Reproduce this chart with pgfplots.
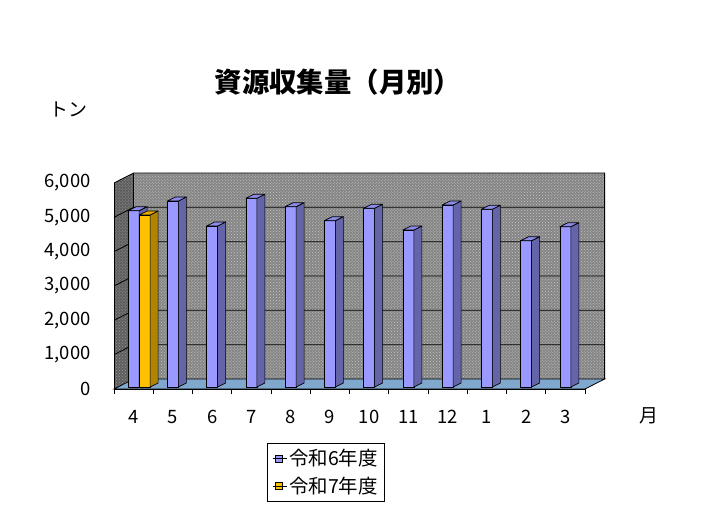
\documentclass[border=0pt]{standalone}
\usepackage{fontspec}
\setmainfont{Noto Sans CJK JP}
\usepackage{pgfplots}
\pgfplotsset{compat=1.18}
\usetikzlibrary{patterns}

\definecolor{rsixfront}{HTML}{9999FF}
\definecolor{rsixside}{HTML}{6464A8}
\definecolor{rsixtop}{HTML}{8C8CE8}
\definecolor{rsevfront}{HTML}{FFC000}
\definecolor{rsevside}{HTML}{B08400}
\definecolor{rsevtop}{HTML}{E6A800}
\definecolor{backwall}{HTML}{858585}
\definecolor{backdots}{HTML}{C8C8C8}
\definecolor{sidewall}{HTML}{5E5E5E}
\definecolor{sidedots}{HTML}{999999}
\definecolor{floorblue}{HTML}{80A8CC}

\newcommand{\sz}[1]{\fontsize{#1}{#1}\selectfont}

% one 3d column, drawn at the data point (top front centre of the column)
% #1 x offset in bp, #2 front, #3 side, #4 top
\newcommand{\columnthreed}[4]{%
  \pgfmathsetmacro\barlo{2-\rawv*0.0343333}%
  \pgfmathsetmacro\xl{#1-5.5}%
  \pgfmathsetmacro\xr{#1+5.5}%
  \pgfmathsetmacro\xb{#1+13.5}%
  \pgfmathsetmacro\xt{#1+2.5}%
  \begin{scope}[line width=0.7bp, line join=round]
    \filldraw[fill=#2, draw=black] (\xl bp,\barlo bp) rectangle (\xr bp,2bp);
    \filldraw[fill=#3, draw=black] (\xr bp,2bp) -- (\xb bp,6bp) -- (\xb bp,\barlo bp+4bp) -- (\xr bp,\barlo bp) -- cycle;
    \filldraw[fill=#4, draw=black] (\xl bp,2bp) -- (\xr bp,2bp) -- (\xb bp,6bp) -- (\xt bp,6bp) -- cycle;
  \end{scope}}
\pgfdeclareplotmark{colsix}{\columnthreed{0}{rsixfront}{rsixside}{rsixtop}}
\pgfdeclareplotmark{colsev}{\columnthreed{11}{rsevfront}{rsevside}{rsevtop}}

\begin{document}
\begin{tikzpicture}
\useasboundingbox (0,0) rectangle (715bp,514bp);
\node[font=\sz{27.5}\bfseries] at (338bp,432bp) {資源収集量（月別）};
\node[font=\sz{19}, anchor=west] at (46bp,405bp) {トン};
\node[font=\sz{19}] at (649bp,98bp) {月};
\begin{axis}[
    at={(114bp,125bp)}, anchor=south west,
    scale only axis,
    width=471bp, height=206bp,
    xmin=-0.5, xmax=11.5,
    ymin=0, ymax=6000,
    clip=false,
    axis on top,
    axis x line*=bottom,
    axis y line*=left,
    axis line style={black, line width=0.8bp},
    xtick={0,...,11},
    xticklabels={4,5,6,7,8,9,10,11,12,1,2,3},
    minor xtick={-0.5,0.5,...,11.5},
    ytick={0,1000,...,6000},
    scaled y ticks=false,
    major tick length=0pt,
    minor tick length=5bp,
    tick align=outside,
    tick style={black, line width=0.8bp},
    ticklabel style={font=\sz{18.5}},
    /pgf/number format/assume math mode=true,
    yticklabel style={/pgf/number format/1000 sep={,}, xshift=-20bp},
    xticklabel style={yshift=-18bp},
    legend style={at={(0.325,-0.262)}, anchor=north west,
      draw=black, line width=0.8bp, font=\sz{19.5},
      inner xsep=5bp, inner ysep=4bp, row sep=6bp},
    legend cell align=left,
]
% walls and floor
\fill[backwall] (axis cs:0,291) rectangle (axis cs:12,6291);
\fill[pattern=crosshatch dots, pattern color=backdots] (axis cs:0,291) rectangle (axis cs:12,6291);
\fill[sidewall] (axis cs:-0.5,0) -- (axis cs:0,291) -- (axis cs:0,6291) -- (axis cs:-0.5,6000) -- cycle;
\fill[pattern=crosshatch dots, pattern color=sidedots] (axis cs:-0.5,0) -- (axis cs:0,291) -- (axis cs:0,6291) -- (axis cs:-0.5,6000) -- cycle;
\draw[black, line width=0.8bp] (axis cs:-0.5,6000) -- (axis cs:0,6291) -- (axis cs:12,6291) -- (axis cs:12,291);
\draw[black, line width=0.8bp] (axis cs:0,291) -- (axis cs:0,6291);
% grid lines on the walls
\draw[black, line width=0.8bp]
  (axis cs:-0.5,1000) -- (axis cs:0,1291) -- (axis cs:12,1291)
  (axis cs:-0.5,2000) -- (axis cs:0,2291) -- (axis cs:12,2291)
  (axis cs:-0.5,3000) -- (axis cs:0,3291) -- (axis cs:12,3291)
  (axis cs:-0.5,4000) -- (axis cs:0,4291) -- (axis cs:12,4291)
  (axis cs:-0.5,5000) -- (axis cs:0,5291) -- (axis cs:12,5291);
\filldraw[fill=floorblue, draw=black, line width=0.8bp] (axis cs:-0.5,0) -- (axis cs:11.5,0) -- (axis cs:12,291) -- (axis cs:0,291) -- cycle;

\addplot[scatter, only marks, mark=colsix,
  scatter/@pre marker code/.code={}, scatter/@post marker code/.code={},
  visualization depends on={rawy \as \rawv},
  legend image code/.code={\filldraw[fill=rsixfront, draw=black, line width=0.6bp] (2bp,-3.5bp) rectangle (9bp,3.5bp); \path (0bp,0bp) -- (14bp,0bp);}]
  coordinates {(0,5135) (1,5418) (2,4690) (3,5497) (4,5252) (5,4844)
               (6,5205) (7,4573) (8,5301) (9,5176) (10,4262) (11,4669)};
\addplot[scatter, only marks, mark=colsev,
  scatter/@pre marker code/.code={}, scatter/@post marker code/.code={},
  visualization depends on={rawy \as \rawv},
  legend image code/.code={\filldraw[fill=rsevfront, draw=black, line width=0.6bp] (2bp,-3.5bp) rectangle (9bp,3.5bp); \path (0bp,0bp) -- (14bp,0bp);}]
  coordinates {(0,5010)};
\legend{令和6年度, 令和7年度}
\end{axis}
\end{tikzpicture}
\end{document}
